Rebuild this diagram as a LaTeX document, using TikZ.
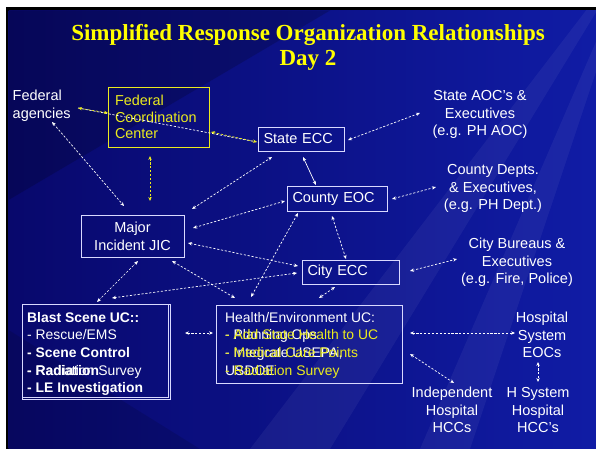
\documentclass[tikz,border=0pt]{standalone}
\usepackage{fontspec}
\setmainfont{Liberation Sans}
\newfontfamily\ttlserif{Liberation Serif}
\usetikzlibrary{arrows.meta}
\definecolor{bgdark}{RGB}{8,8,108}
\definecolor{bgmid}{RGB}{16,28,165}
\definecolor{ttlyel}{RGB}{255,255,0}
\definecolor{fcyel}{RGB}{235,235,30}
\newcommand\freefnt{\fontsize{14.5}{17.8}\selectfont}
\newcommand\boxfnt{\fontsize{13.9}{17.7}\selectfont}
\newcommand\fcfnt{\fontsize{14.4}{16.8}\selectfont}
\newcommand\ttlfnt{\fontsize{23}{25}\selectfont\ttlserif\bfseries}
\tikzset{
  box/.style={draw=white!85!blue, line width=0.8pt, inner sep=0pt, font=\freefnt, text=white},
  txt/.style={text=white, font=\freefnt, inner sep=0pt, align=center},
  ltxt/.style={font=\boxfnt, inner sep=0pt, align=left, anchor=north west},
  tip/.tip={Stealth[length=4pt,width=3.4pt]},
  conn/.style={white, line width=0.7pt, dash pattern=on 2.2pt off 1.7pt, tip-tip},
  yconn/.style={conn, draw=fcyel},
  solidconn/.style={white, line width=0.7pt, tip-tip},
  streak/.style={white, opacity=0.05}
}
\begin{document}
\begin{tikzpicture}[x=1pt,y=-1pt]
\useasboundingbox (0,0) rectangle (596,449);
% background
\fill[white] (0,0) rectangle (596,449);
\fill[black] (5.5,7.5) rectangle (596,449);
\shade[left color=bgdark, right color=bgmid] (8.5,10.5) rectangle (596,449);
\begin{scope}
\clip (8.5,10.5) rectangle (596,449);
\fill[streak] (640,-60) -- (250,449) -- (330,449) -- cycle;
\fill[streak] (640,-60) -- (420,449) -- (470,449) -- cycle;
\fill[streak] (640,-60) -- (596,300) -- (596,240) -- cycle;
\fill[black, opacity=0.18] (8.5,10.5) -- (330,10.5) -- (8.5,200) -- cycle;
\fill[black, opacity=0.12] (8.5,330) -- (8.5,449) -- (200,449) -- cycle;
\end{scope}

% title
\node[text=ttlyel, font=\ttlfnt, anchor=base, inner sep=0pt] (title1) at (308,41) {Simplified Response Organization Relationships};
\node[text=ttlyel, font=\ttlfnt, anchor=base, inner sep=0pt] (title2) at (308,66) {Day 2};

% free texts
\node[txt, align=left, anchor=north west] (fedag) at (12.5,87.7) {\strut Federal\\\strut agencies};
\node[txt, anchor=north] (stateaoc) at (480,87.7) {\strut State AOC's \&\\\strut Executives\\\strut (e.g. PH AOC)};
\node[txt, anchor=north] (cntydept) at (493,161.7) {\strut County Depts.\\\strut \& Executives,\\\strut (e.g. PH Dept.)};
\node[txt, anchor=north] (citybur) at (517,235.7) {\strut City Bureaus \&\\\strut Executives\\\strut (e.g. Fire, Police)};
\node[txt, anchor=north] (hospsys) at (542,309.7) {\strut Hospital\\\strut System\\\strut EOCs};
\node[txt, anchor=north] (indep) at (452,384.7) {\strut Independent\\\strut Hospital\\\strut HCCs};
\node[txt, anchor=north] (hsys) at (538,384.7) {\strut H System\\\strut Hospital\\\strut HCC's};

% boxes
\node[draw=fcyel, line width=0.8pt, inner sep=0pt, minimum width=101pt, minimum height=60pt,
      text width=87pt, align=left, text=fcyel, font=\fcfnt] (fcc) at (158.5,117) {Federal\\Coordination\\Center};
\node[box, minimum width=86pt, minimum height=24pt, text width=75pt, align=left] (state) at (301,139) {State ECC};
\node[box, minimum width=100pt, minimum height=25pt, text width=89pt, align=left] (county) at (337,198.5) {County EOC};
\node[box, minimum width=97pt, minimum height=24pt, text width=86pt, align=left] (city) at (350.5,272) {City ECC};
\node[box, minimum width=103pt, minimum height=42pt, align=center, font=\fontsize{14.5}{18}\selectfont] (jic) at (132.5,236.5) {Major\\Incident JIC};

% Blast Scene UC
\node[box, minimum width=148pt, minimum height=95pt] (blast2) at (96,351.5) {};
\node[box, minimum width=146pt, minimum height=93pt] (blast) at (95,350.5) {};
\node[ltxt, text=white] (blasttxt) at (27,309.6) {\strut\textbf{Blast Scene UC::}\\\strut - Rescue/EMS\\\strut\textbf{- Scene Control}\\\strut - Radiation Survey\\\strut\textbf{- LE Investigation}};
\node[ltxt, text=white] (blasttxtb) at (27,309.6) {\strut\\\strut\\\strut\\\strut\textbf{- Radiation}\\\strut};

% Health/Environment UC
\node[box, minimum width=186pt, minimum height=78pt] (health) at (309,344) {};
\node[ltxt, text=white] (healthtxt) at (225,309.6) {\strut Health/Environment UC:\\\strut - Planning Ops\\\strut - Integrate USEPA,\\\strut USDOE};
\node[ltxt, text=fcyel] (healthtxty) at (225,309.6) {\strut\\\strut - Add State Health to UC\\\strut - Medical Care Points\\\strut - Radiation Survey};

% connector end points
\coordinate (fa1) at (78,108);
\coordinate (se1) at (257,142);
\coordinate (fc1) at (108,113);
\coordinate (fc2) at (211,132);
\coordinate (fc3) at (150,156);
\coordinate (ji1) at (150,201);
\coordinate (fa2) at (52,122);
\coordinate (ji2) at (124,206);
\coordinate (ji3) at (192,209);
\coordinate (se2) at (272,157);
\coordinate (ji4) at (193,228);
\coordinate (co1) at (285,201);
\coordinate (ji5) at (188,243);
\coordinate (ci1) at (298,266);
\coordinate (bl1) at (112,298);
\coordinate (ci2) at (297,273);
\coordinate (ji6) at (138,261);
\coordinate (bl2) at (97,302);
\coordinate (ji7) at (172,261);
\coordinate (he1) at (235,298);
\coordinate (he2) at (251,297);
\coordinate (co2) at (298,213);
\coordinate (se3) at (303,157);
\coordinate (co3) at (316,185);
\coordinate (co4) at (332,216);
\coordinate (ci3) at (346,259);
\coordinate (ci4) at (335,287);
\coordinate (he3) at (319,298);
\coordinate (se4) at (348,140);
\coordinate (sa1) at (420,113);
\coordinate (co5) at (392,199);
\coordinate (cd1) at (436,187);
\coordinate (ci5) at (410,271);
\coordinate (cb1) at (457,259);
\coordinate (bl3) at (185,333);
\coordinate (he4) at (213,333);
\coordinate (he5) at (410,333);
\coordinate (hs1) at (515,333);
\coordinate (he6) at (410,354);
\coordinate (in1) at (454,383);
\coordinate (hs2) at (538,362);
\coordinate (hy1) at (538,382);

% connectors
\draw[conn, -] (fa1) -- (se1);
\draw[yconn] (fa1) -- (fc1);
\draw[yconn] (fc2) -- (se1);
\draw[yconn] (fc3) -- (ji1);
\draw[conn] (fa2) -- (ji2);
\draw[conn] (ji3) -- (se2);
\draw[conn] (ji4) -- (co1);
\draw[conn] (ji5) -- (ci1);
\draw[conn] (bl1) -- (ci2);
\draw[conn] (ji6) -- (bl2);
\draw[conn] (ji7) -- (he1);
\draw[conn] (he2) -- (co2);
\draw[solidconn] (se3) -- (co3);
\draw[conn] (co4) -- (ci3);
\draw[conn] (ci4) -- (he3);
\draw[conn] (se4) -- (sa1);
\draw[conn] (co5) -- (cd1);
\draw[conn] (ci5) -- (cb1);
\draw[conn] (bl3) -- (he4);
\draw[conn] (he5) -- (hs1);
\draw[conn] (he6) -- (in1);
\draw[conn] (hs2) -- (hy1);
\end{tikzpicture}
\end{document}
